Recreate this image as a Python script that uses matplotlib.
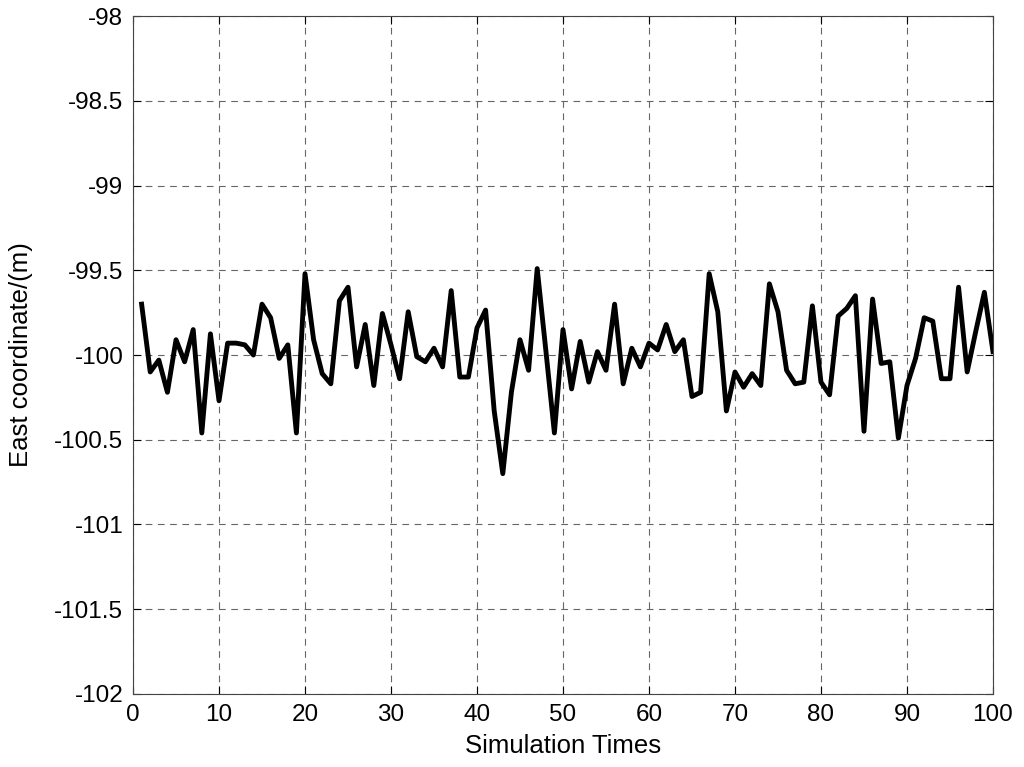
import numpy as np
import matplotlib.pyplot as plt

plt.rcParams['font.family'] = ['Liberation Sans', 'DejaVu Sans']

# simulation index and east coordinate readings (m)
times = np.arange(1, 101)
east = [
    -99.70, -100.10, -100.03, -100.22, -99.91, -100.04, -99.85, -100.46, -99.875, -100.27,
    -99.93, -99.93, -99.94, -100.00, -99.70, -99.78, -100.02, -99.94, -100.46, -99.52,
    -99.91, -100.11, -100.17, -99.68, -99.60, -100.07, -99.82, -100.18, -99.755, -99.94,
    -100.14, -99.745, -100.01, -100.04, -99.96, -100.07, -99.62, -100.13, -100.13, -99.84,
    -99.735, -100.33, -100.70, -100.22, -99.91, -100.09, -99.49, -99.97, -100.46, -99.85,
    -100.20, -99.92, -100.16, -99.98, -100.09, -99.70, -100.17, -99.96, -100.07, -99.93,
    -99.97, -99.82, -99.98, -99.91, -100.245, -100.22, -99.52, -99.745, -100.33, -100.10,
    -100.19, -100.11, -100.18, -99.58, -99.745, -100.09, -100.17, -100.16, -99.71, -100.16,
    -100.235, -99.77, -99.725, -99.65, -100.45, -99.67, -100.05, -100.04, -100.49, -100.18,
    -100.02, -99.78, -99.80, -100.14, -100.14, -99.60, -100.10, -99.86, -99.63, -99.98,
]
xticks = np.arange(0, 101, 10)
yticks = [-102, -101.5, -101, -100.5, -100, -99.5, -99, -98.5, -98]
ytick_labels = ['-102', '-101.5', '-101', '-100.5', '-100', '-99.5', '-99', '-98.5', '-98']

fig = plt.figure(figsize=(10.24, 7.67), dpi=100)
ax = fig.add_axes([0.1299, 0.0952, 0.8398, 0.8839])

ax.plot(times, east, color='black', linewidth=3.5)

ax.set_xlim(0, 100)
ax.set_ylim(-102, -98)
ax.set_xticks(xticks)
ax.set_yticks(yticks)
ax.set_yticklabels(ytick_labels)
ax.tick_params(direction='in', top=True, right=True, labelsize=17.5, length=6, pad=7)
ax.grid(True, color='#666666', linestyle=(0, (6, 5)), linewidth=0.8)
for s in ax.spines.values():
    s.set_color('#444444')
    s.set_linewidth(0.8)

ax.set_xlabel('Simulation Times', fontsize=18.5, labelpad=6)
ax.set_ylabel('East coordinate/(m)', fontsize=18.5, labelpad=15)

fig.savefig('out.png', dpi=100)
